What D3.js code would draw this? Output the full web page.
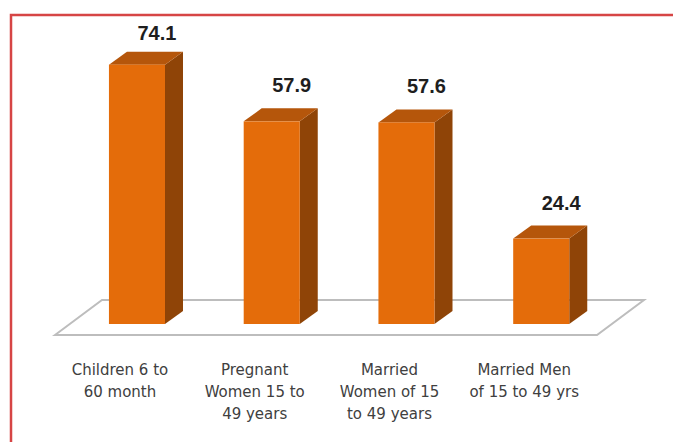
<!DOCTYPE html>
<meta charset="utf-8">
<style>
body { margin: 0; background: #fff; }
.cat { font: 15px "DejaVu Sans", sans-serif; fill: #404040; }
.val { font: bold 20px "Liberation Sans", Arial, sans-serif; fill: #1e1e1e; }
</style>
<svg width="673" height="442"></svg>
<script src="https://d3js.org/d3.v7.min.js"></script>
<script>

// data
var categories = ["Children 6 to 60 month", "Pregnant Women 15 to 49 years",
                  "Married Women of 15 to 49 years", "Married Men of 15 to 49 yrs"];
var catLines = [["Children 6 to", "60 month"],
                ["Pregnant", "Women 15 to", "49 years"],
                ["Married", "Women of 15", "to 49 years"],
                ["Married Men", "of 15 to 49 yrs"]];
var values = [74.1, 57.9, 57.6, 24.4];

var svg = d3.select("svg");

// red frame (right and bottom run off the picture)
svg.append("rect")
    .attr("x", 11).attr("y", 15)
    .attr("width", 700).attr("height", 460)
    .attr("fill", "none")
    .attr("stroke", "#d64545")
    .attr("stroke-width", 2.5);

var x = d3.scaleBand()
    .domain(categories)
    .range([69.6, 608.6])
    .paddingInner(0.584)
    .paddingOuter(0.292);

var y = d3.scaleLinear().domain([0, 80]).range([324, 44]);

var dx = 18, dy = -13;          // bar depth
var fdx = 47, fdy = -35;        // floor depth

// floor
var fx0 = 55, fx1 = 597, fy = 335;
svg.append("path")
    .attr("d", "M" + fx0 + "," + fy + "L" + (fx0 + fdx) + "," + (fy + fdy) +
               "L" + (fx1 + fdx) + "," + (fy + fdy) + "L" + fx1 + "," + fy + "Z")
    .attr("fill", "#fff")
    .attr("stroke", "#bdbdbd")
    .attr("stroke-width", 2);

var bars = svg.selectAll(".bar")
  .data(categories)
  .enter().append("g")
    .attr("class", "bar");

function pts(p) { return p.map(function(d) { return d.join(","); }).join(" "); }

// side face
bars.append("polygon")
    .attr("points", function(d, i) {
      var r = x(d) + x.bandwidth(), t = y(values[i]), b = y(0);
      return pts([[r, t], [r + dx, t + dy], [r + dx, b + dy], [r, b]]);
    })
    .attr("fill", "#8f4407");

// top face
bars.append("polygon")
    .attr("points", function(d, i) {
      var l = x(d), r = l + x.bandwidth(), t = y(values[i]);
      return pts([[l, t], [l + dx, t + dy], [r + dx, t + dy], [r, t]]);
    })
    .attr("fill", "#b5560b");

// front face
bars.append("rect")
    .attr("x", function(d) { return x(d); })
    .attr("y", function(d, i) { return y(values[i]); })
    .attr("width", x.bandwidth())
    .attr("height", function(d, i) { return y(0) - y(values[i]); })
    .attr("fill", "#e46c0a");

// value labels
bars.append("text")
    .attr("class", "val")
    .attr("text-anchor", "middle")
    .attr("x", function(d) { return x(d) + x.bandwidth() / 2 + 20; })
    .attr("y", function(d, i) { return Math.max(y(values[i]) - 29, 40); })
    .text(function(d, i) { return values[i]; });

// category labels
bars.append("text")
    .attr("class", "cat")
    .attr("text-anchor", "middle")
    .attr("y", 375)
    .selectAll("tspan")
    .data(function(d, i) { return catLines[i].map(function(s) { return {s: s, c: d}; }); })
    .enter().append("tspan")
      .attr("x", function(d) { return x(d.c) + x.bandwidth() / 2 - 17; })
      .attr("dy", function(d, j) { return j ? 22 : 0; })
      .text(function(d) { return d.s; });

</script>
